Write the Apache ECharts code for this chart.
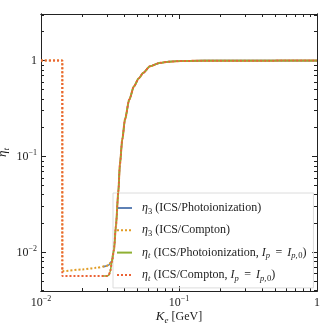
<!DOCTYPE html>
<html><head><meta charset="utf-8">
<script src="https://cdn.jsdelivr.net/npm/echarts@6/dist/echarts.min.js"></script>
<style>html,body{margin:0;padding:0;background:#fff}#c{width:322px;height:326px}</style>
</head><body><div id="c"></div>
<script>
// ---- data (K_e in GeV, eta dimensionless) ----
const blueK   = [0.028, 0.0295, 0.0310, 0.0325, 0.0338, 0.0349, 0.0363, 0.0373, 0.0388, 0.0406, 0.0436, 0.0472, 0.0510, 0.0551, 0.0616, 0.0728, 0.085, 0.107, 0.15, 1];
const blueEta = [0.0071, 0.0072, 0.0074, 0.0081, 0.0107, 0.0188, 0.0419, 0.0826, 0.150, 0.243, 0.392, 0.540, 0.650, 0.745, 0.873, 0.947, 0.975, 0.990, 0.998, 1];
const orangeK   = [0.01, 0.01427, 0.01427, 0.020, 0.025, 0.0295, 0.0310, 0.0325, 0.0338, 0.0349, 0.0363, 0.0373, 0.0388, 0.0406, 0.0436, 0.0472, 0.0510, 0.0551, 0.0616, 0.0728, 0.085, 0.107, 0.15, 1];
const orangeEta = [1, 1, 0.00638, 0.00665, 0.0069, 0.0072, 0.0074, 0.0081, 0.0107, 0.0188, 0.0419, 0.0826, 0.150, 0.243, 0.392, 0.540, 0.650, 0.745, 0.873, 0.947, 0.975, 0.990, 0.998, 1];
const greenK   = [0.028, 0.0300, 0.0310, 0.0316, 0.0327, 0.0338, 0.0349, 0.0363, 0.0373, 0.0388, 0.0406, 0.0436, 0.0472, 0.0510, 0.0551, 0.0616, 0.0728, 0.085, 0.107, 0.15, 1];
const greenEta = [0.00567, 0.00567, 0.0058, 0.0062, 0.0080, 0.0107, 0.0188, 0.0419, 0.0826, 0.150, 0.243, 0.392, 0.540, 0.650, 0.745, 0.873, 0.947, 0.975, 0.990, 0.998, 1];
const redK   = [0.01, 0.01427, 0.01427, 0.0300, 0.0310, 0.0316, 0.0327, 0.0338, 0.0349, 0.0363, 0.0373, 0.0388, 0.0406, 0.0436, 0.0472, 0.0510, 0.0551, 0.0616, 0.0728, 0.085, 0.107, 0.15, 1];
const redEta = [1, 1, 0.00567, 0.00567, 0.0058, 0.0062, 0.0080, 0.0107, 0.0188, 0.0419, 0.0826, 0.150, 0.243, 0.392, 0.540, 0.650, 0.745, 0.873, 0.947, 0.975, 0.990, 0.998, 1];

const seriesNames = ['eta3 photo', 'eta3 compton', 'etat photo', 'etat compton'];
const legendLabels = [
  '{i|η}{s|3}{r| (ICS/Photoionization)}',
  '{i|η}{s|3}{r| (ICS/Compton)}',
  '{i|η}{si|t}{r| (ICS/Photoionization, }{i|I}{si|p}{eq|=}{i|I}{si|p,}{s|0}{r|)}',
  '{i|η}{si|t}{r| (ICS/Compton, }{i|I}{si|p}{eq|=}{i|I}{si|p,}{s|0}{r|)}'
];
const xMajor = [0.01, 0.1, 1];
const xMajorLabels = ['{r|10}{sup|−2}', '{r|10}{sup|−1}', '{r|1}'];
const xMinor = [0.02,0.03,0.04,0.05,0.06,0.07,0.08,0.09,0.2,0.3,0.4,0.5,0.6,0.7,0.8,0.9];
const yMajor = [0.01, 0.1, 1];
const yMajorLabels = ['{r|10}{sup|−2}', '{r|10}{sup|−1}', '{r|1}'];
const yMinor = [0.004,0.005,0.006,0.007,0.008,0.009,0.02,0.03,0.04,0.05,0.06,0.07,0.08,0.09,0.2,0.3,0.4,0.5,0.6,0.7,0.8,0.9,2,3];
const xRange = [0.01, 1];
const yRange = [0.00396, 3.06];

const colors = ['#5E81B5', '#E19C24', '#8FB032', '#EB6235'];
const L = Math.log10;
const FONT = 'Liberation Serif';
const TXT = '#222';
const AX = '#222';

const rich = {
  r: {fontFamily: FONT, fontSize: 12, color: TXT, lineHeight: 16},
  i: {fontFamily: FONT, fontSize: 12, fontStyle: 'italic', color: TXT, lineHeight: 16},
  eq: {fontFamily: FONT, fontSize: 12, color: TXT, lineHeight: 16, padding: [0, 5, 0, 5]},
  s: {fontFamily: FONT, fontSize: 8.5, color: TXT, lineHeight: 8, verticalAlign: 'bottom'},
  si: {fontFamily: FONT, fontSize: 8.5, fontStyle: 'italic', color: TXT, lineHeight: 8, verticalAlign: 'bottom', padding: [0, 0.5, 0, 0]},
  sup: {fontFamily: FONT, fontSize: 8, color: TXT, lineHeight: 8, verticalAlign: 'top'},
  bi: {fontFamily: FONT, fontSize: 13, fontStyle: 'italic', color: TXT, lineHeight: 16},
  bs: {fontFamily: FONT, fontSize: 9, fontStyle: 'italic', color: TXT, lineHeight: 8, verticalAlign: 'bottom'}
};

function pts(ks, es) { return ks.map((k, i) => [L(k), L(es[i])]); }
function fmtFrom(vals, labels) {
  return v => { const i = vals.findIndex(t => Math.abs(L(t) - v) < 1e-6); return i >= 0 ? labels[i] : ''; };
}

const xMin = L(xRange[0]), xMax = L(xRange[1]);
const yMin = L(yRange[0]), yMax = L(yRange[1]);

function xAx(pos, ticks, len, labels, extra) {
  return Object.assign({
    type: 'value', position: pos, min: xMin, max: xMax,
    axisLine: {show: true, onZero: false, lineStyle: {color: AX, width: 1}},
    axisTick: {show: true, inside: true, length: len, customValues: ticks.map(L), lineStyle: {color: AX, width: 1}},
    axisLabel: labels ? {show: true, customValues: xMajor.map(L), formatter: fmtFrom(xMajor, labels), rich: rich, margin: 4} : {show: false},
    splitLine: {show: false}
  }, extra || {});
}
function yAx(pos, ticks, len, labels, extra) {
  return Object.assign({
    type: 'value', position: pos, min: yMin, max: yMax,
    axisLine: {show: true, onZero: false, lineStyle: {color: AX, width: 1}},
    axisTick: {show: true, inside: true, length: len, customValues: ticks.map(L), lineStyle: {color: AX, width: 1}},
    axisLabel: labels ? {show: true, customValues: yMajor.map(L), formatter: fmtFrom(yMajor, labels), rich: rich, margin: 4} : {show: false},
    splitLine: {show: false}
  }, extra || {});
}

const chart = echarts.init(document.getElementById('c'), null, {renderer: 'canvas'});
const lineStyles = [
  {color: colors[0], width: 1.6, type: 'solid'},
  {color: colors[1], width: 2, type: [2, 2]},
  {color: colors[2], width: 1.6, type: 'solid'},
  {color: colors[3], width: 2, type: [2, 2]}
];
const dataSets = [pts(blueK, blueEta), pts(orangeK, orangeEta), pts(greenK, greenEta), pts(redK, redEta)];

chart.setOption({
  animation: false,
  backgroundColor: '#fff',
  grid: {left: 41, right: 5, top: 14, bottom: 35, containLabel: false, outerBoundsMode: 'none'},
  xAxis: [
    xAx('bottom', xMajor, 5, xMajorLabels, {
      name: '{bi|K}{bs|e}{r| [GeV]}', nameLocation: 'middle', nameGap: 18, nameMoveOverlap: false,
      nameTextStyle: {rich: rich}
    }),
    xAx('bottom', xMinor, 3, null),
    xAx('top', xMajor, 5, null),
    xAx('top', xMinor, 3, null)
  ],
  yAxis: [
    yAx('left', yMajor, 5, yMajorLabels, {
      name: '{bi|η}{bs|t}', nameLocation: 'middle', nameGap: 30, nameRotate: 90, nameMoveOverlap: false,
      nameTextStyle: {rich: rich}
    }),
    yAx('left', yMinor, 3, null),
    yAx('right', yMajor, 5, null),
    yAx('right', yMinor, 3, null)
  ],
  legend: {
    orient: 'vertical', left: 113, top: 193,
    data: seriesNames,
    formatter: n => legendLabels[seriesNames.indexOf(n)],
    itemWidth: 15, itemHeight: 14, itemGap: 8.3,
    padding: [9, 7, 5, 3],
    backgroundColor: 'rgba(255,255,255,0.15)',
    borderColor: '#dcdcdc', borderWidth: 1, borderRadius: 0,
    itemStyle: {opacity: 0},
    textStyle: {rich: rich, padding: [0, 0, 0, 5]},
    inactiveColor: '#ccc'
  },
  series: seriesNames.map((n, i) => ({
    name: n, type: 'line', xAxisIndex: 0, yAxisIndex: 0,
    data: dataSets[i], showSymbol: false, symbol: 'none',
    smooth: 0.25, smoothMonotone: 'x',
    lineStyle: lineStyles[i], itemStyle: {color: colors[i]},
    z: 2 + i
  }))
});
</script></body></html>
